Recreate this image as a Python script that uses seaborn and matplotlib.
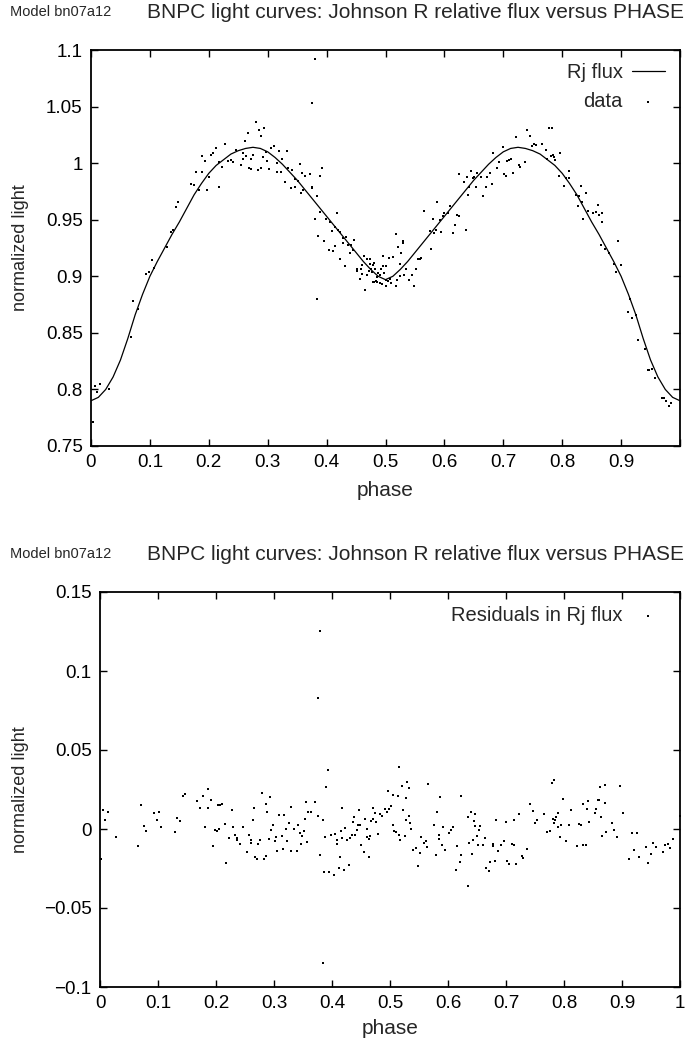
import numpy as np
import pandas as pd
import matplotlib
matplotlib.use("Agg")
import matplotlib.pyplot as plt
import seaborn as sns

# ---------------- data ----------------
model_phase = [0.0000, 0.0125, 0.0250, 0.0375, 0.0500, 0.0625, 0.0750, 0.0875, 0.1000, 0.1125,
               0.1250, 0.1375, 0.1500, 0.1625, 0.1750, 0.1875, 0.2000, 0.2125, 0.2250, 0.2375,
               0.2500, 0.2625, 0.2750, 0.2875, 0.3000, 0.3125, 0.3250, 0.3375, 0.3500, 0.3625,
               0.3750, 0.3875, 0.4000, 0.4125, 0.4250, 0.4375, 0.4500, 0.4625, 0.4750, 0.4875,
               0.5000, 0.5125, 0.5250, 0.5375, 0.5500, 0.5625, 0.5750, 0.5875, 0.6000, 0.6125,
               0.6250, 0.6375, 0.6500, 0.6625, 0.6750, 0.6875, 0.7000, 0.7125, 0.7250, 0.7375,
               0.7500, 0.7625, 0.7750, 0.7875, 0.8000, 0.8125, 0.8250, 0.8375, 0.8500, 0.8625,
               0.8750, 0.8875, 0.9000, 0.9125, 0.9250, 0.9375, 0.9500, 0.9625, 0.9750, 0.9875,
               1.0000]
model_flux = [0.790, 0.793, 0.800, 0.811, 0.826, 0.845, 0.866, 0.884, 0.900, 0.913,
              0.925, 0.937, 0.948, 0.960, 0.972, 0.982, 0.991, 0.998, 1.003, 1.008,
              1.011, 1.013, 1.014, 1.013, 1.010, 1.005, 0.999, 0.992, 0.985, 0.977,
              0.969, 0.961, 0.953, 0.945, 0.937, 0.929, 0.921, 0.913, 0.906, 0.900,
              0.897, 0.900, 0.906, 0.913, 0.921, 0.929, 0.937, 0.945, 0.953, 0.961,
              0.969, 0.977, 0.985, 0.992, 0.999, 1.005, 1.010, 1.013, 1.014, 1.013,
              1.011, 1.008, 1.003, 0.998, 0.991, 0.982, 0.972, 0.960, 0.948, 0.937,
              0.925, 0.913, 0.900, 0.884, 0.866, 0.845, 0.826, 0.811, 0.800, 0.793,
              0.790]

data_phase = [
    0.003, 0.007, 0.011, 0.015, 0.030, 0.068, 0.072, 0.079, 0.094, 0.098,
    0.103, 0.107, 0.129, 0.135, 0.140, 0.144, 0.148, 0.169, 0.175, 0.179,
    0.183, 0.188, 0.189, 0.193, 0.197, 0.201, 0.203, 0.207, 0.212, 0.218,
    0.218, 0.223, 0.228, 0.233, 0.237, 0.241, 0.247, 0.254, 0.258, 0.258,
    0.262, 0.264, 0.267, 0.268, 0.271, 0.272, 0.275, 0.280, 0.284, 0.286,
    0.288, 0.288, 0.292, 0.293, 0.297, 0.299, 0.302, 0.306, 0.311, 0.315,
    0.316, 0.319, 0.323, 0.325, 0.329, 0.332, 0.335, 0.340, 0.342, 0.346,
    0.347, 0.351, 0.354, 0.357, 0.359, 0.360, 0.364, 0.371, 0.375, 0.375,
    0.376, 0.380, 0.380, 0.384, 0.384, 0.386, 0.388, 0.388, 0.393, 0.395,
    0.399, 0.404, 0.406, 0.410, 0.411, 0.414, 0.415, 0.418, 0.419, 0.422,
    0.423, 0.427, 0.428, 0.431, 0.433, 0.436, 0.439, 0.442, 0.445, 0.446,
    0.451, 0.452, 0.456, 0.459, 0.460, 0.460, 0.464, 0.466, 0.468, 0.469,
    0.472, 0.473, 0.476, 0.477, 0.479, 0.481, 0.481, 0.483, 0.484, 0.486,
    0.487, 0.474, 0.478, 0.485, 0.490, 0.490, 0.492, 0.494, 0.495, 0.496,
    0.498, 0.500, 0.500, 0.501, 0.504, 0.506, 0.507, 0.510, 0.512, 0.517,
    0.517, 0.518, 0.520, 0.521, 0.524, 0.525, 0.527, 0.529, 0.530, 0.532,
    0.535, 0.540, 0.545, 0.548, 0.552, 0.555, 0.558, 0.560, 0.566, 0.575,
    0.578, 0.581, 0.583, 0.586, 0.588, 0.592, 0.595, 0.597, 0.600, 0.606,
    0.610, 0.614, 0.618, 0.621, 0.624, 0.624, 0.634, 0.636, 0.638, 0.640,
    0.642, 0.645, 0.648, 0.651, 0.654, 0.656, 0.662, 0.666, 0.671, 0.673,
    0.677, 0.681, 0.683, 0.690, 0.693, 0.699, 0.702, 0.704, 0.707, 0.710,
    0.713, 0.716, 0.721, 0.726, 0.728, 0.736, 0.741, 0.745, 0.748, 0.752,
    0.755, 0.765, 0.772, 0.775, 0.778, 0.781, 0.782, 0.784, 0.786, 0.788,
    0.794, 0.797, 0.803, 0.806, 0.811, 0.812, 0.823, 0.826, 0.829, 0.832,
    0.834, 0.836, 0.840, 0.843, 0.853, 0.857, 0.860, 0.863, 0.866, 0.867,
    0.868, 0.873, 0.879, 0.888, 0.891, 0.895, 0.899, 0.911, 0.915, 0.919,
    0.925, 0.928, 0.940, 0.945, 0.948, 0.953, 0.957, 0.969, 0.973, 0.977,
    0.981, 0.985]
data_flux = [
    0.771, 0.803, 0.798, 0.805, 0.800, 0.846, 0.878, 0.871, 0.902, 0.904,
    0.914, 0.907, 0.926, 0.939, 0.941, 0.961, 0.966, 0.982, 0.981, 0.992,
    0.976, 0.992, 1.006, 1.002, 0.976, 0.988, 1.007, 1.009, 1.013, 0.979,
    1.001, 0.997, 1.017, 1.002, 1.003, 1.001, 1.012, 0.998, 1.009, 1.004,
    1.020, 1.006, 1.027, 0.996, 1.004, 0.995, 1.007, 1.036, 0.994, 1.029,
    1.024, 0.996, 1.005, 1.031, 1.010, 1.002, 0.995, 1.013, 1.015, 1.000,
    0.992, 1.011, 0.992, 1.004, 0.983, 1.011, 0.996, 0.978, 0.994, 0.979,
    0.986, 0.984, 0.999, 0.974, 0.991, 0.976, 0.989, 0.990, 1.053, 0.979,
    0.978, 1.092, 0.951, 0.971, 0.880, 0.936, 0.957, 0.989, 0.996, 0.931,
    0.951, 0.923, 0.948, 0.940, 0.922, 0.944, 0.927, 0.956, 0.941, 0.915,
    0.939, 0.934, 0.929, 0.909, 0.935, 0.928, 0.921, 0.928, 0.923, 0.932,
    0.905, 0.906, 0.898, 0.906, 0.910, 0.902, 0.918, 0.888, 0.901, 0.915,
    0.905, 0.911, 0.906, 0.904, 0.895, 0.912, 0.895, 0.906, 0.896, 0.895,
    0.903, 0.915, 0.910, 0.899, 0.901, 0.894, 0.906, 0.893, 0.909, 0.918,
    0.903, 0.897, 0.891, 0.909, 0.896, 0.916, 0.898, 0.894, 0.917, 0.891,
    0.937, 0.891, 0.897, 0.926, 0.911, 0.900, 0.921, 0.931, 0.929, 0.901,
    0.906, 0.897, 0.901, 0.891, 0.906, 0.915, 0.915, 0.916, 0.958, 0.940,
    0.924, 0.951, 0.938, 0.941, 0.966, 0.950, 0.939, 0.953, 0.956, 0.956,
    0.962, 0.938, 0.945, 0.954, 0.990, 0.953, 0.983, 0.941, 0.988, 0.972,
    0.979, 0.993, 0.987, 0.988, 0.979, 0.991, 0.988, 0.971, 0.979, 0.988,
    0.991, 0.982, 1.009, 0.996, 1.001, 1.014, 0.990, 0.989, 1.002, 1.003,
    1.004, 0.991, 1.023, 0.998, 0.997, 1.001, 1.029, 1.024, 1.015, 1.017,
    1.016, 1.017, 1.012, 1.004, 1.031, 1.006, 1.031, 1.007, 1.005, 1.003,
    0.989, 1.009, 0.980, 0.987, 0.993, 0.987, 0.972, 0.962, 0.971, 0.980,
    0.966, 0.951, 0.974, 0.958, 0.956, 0.957, 0.963, 0.954, 0.928, 0.948,
    0.956, 0.924, 0.921, 0.911, 0.904, 0.931, 0.910, 0.868, 0.880, 0.863,
    0.866, 0.844, 0.836, 0.817, 0.817, 0.818, 0.810, 0.792, 0.792, 0.790,
    0.785, 0.788]

res_phase = [
    0.001, 0.005, 0.009, 0.013, 0.028, 0.066, 0.071, 0.075, 0.079, 0.093,
    0.098, 0.102, 0.106, 0.129, 0.133, 0.138, 0.143, 0.147, 0.168, 0.172,
    0.177, 0.181, 0.186, 0.187, 0.191, 0.195, 0.198, 0.201, 0.203, 0.206,
    0.207, 0.211, 0.216, 0.217, 0.222, 0.227, 0.229, 0.233, 0.236, 0.237,
    0.241, 0.246, 0.253, 0.257, 0.260, 0.261, 0.263, 0.266, 0.267, 0.271,
    0.273, 0.276, 0.279, 0.283, 0.286, 0.287, 0.288, 0.291, 0.293, 0.295,
    0.298, 0.301, 0.303, 0.305, 0.309, 0.313, 0.316, 0.318, 0.320, 0.323,
    0.325, 0.329, 0.330, 0.334, 0.340, 0.342, 0.345, 0.347, 0.349, 0.351,
    0.353, 0.355, 0.357, 0.359, 0.363, 0.371, 0.375, 0.375, 0.379, 0.379,
    0.384, 0.384, 0.386, 0.388, 0.389, 0.393, 0.395, 0.399, 0.403, 0.405,
    0.408, 0.409, 0.412, 0.413, 0.415, 0.417, 0.418, 0.421, 0.422, 0.425,
    0.430, 0.431, 0.434, 0.436, 0.438, 0.440, 0.443, 0.444, 0.446, 0.448,
    0.450, 0.455, 0.457, 0.460, 0.461, 0.463, 0.464, 0.466, 0.467, 0.470,
    0.471, 0.474, 0.476, 0.480, 0.482, 0.487, 0.491, 0.494, 0.497, 0.499,
    0.501, 0.505, 0.506, 0.507, 0.510, 0.514, 0.516, 0.516, 0.518, 0.520,
    0.523, 0.525, 0.527, 0.528, 0.529, 0.532, 0.532, 0.535, 0.536, 0.540,
    0.545, 0.548, 0.551, 0.554, 0.558, 0.562, 0.563, 0.566, 0.575, 0.580,
    0.581, 0.584, 0.585, 0.587, 0.589, 0.592, 0.595, 0.601, 0.605, 0.609,
    0.614, 0.616, 0.620, 0.622, 0.623, 0.634, 0.635, 0.637, 0.640, 0.641,
    0.643, 0.644, 0.646, 0.647, 0.650, 0.652, 0.654, 0.656, 0.660, 0.664,
    0.666, 0.670, 0.672, 0.677, 0.678, 0.681, 0.683, 0.687, 0.691, 0.697,
    0.700, 0.701, 0.706, 0.710, 0.713, 0.714, 0.717, 0.722, 0.727, 0.729,
    0.737, 0.741, 0.746, 0.750, 0.754, 0.766, 0.770, 0.776, 0.779, 0.782,
    0.781, 0.782, 0.785, 0.787, 0.789, 0.790, 0.793, 0.794, 0.799, 0.803,
    0.808, 0.812, 0.823, 0.826, 0.829, 0.833, 0.833, 0.838, 0.839, 0.842,
    0.843, 0.853, 0.855, 0.858, 0.861, 0.862, 0.864, 0.866, 0.870, 0.870,
    0.873, 0.883, 0.887, 0.892, 0.897, 0.901, 0.912, 0.917, 0.921, 0.925,
    0.929, 0.941, 0.945, 0.950, 0.954, 0.958, 0.970, 0.974, 0.979, 0.983,
    0.988, 1.000]
res_value = [
    -0.0190, 0.0120, 0.0060, 0.0110, -0.0050, -0.0110, 0.0150, 0.0020, -0.0010, 0.0100,
    0.0060, 0.0110, 0.0010, -0.0020, 0.0070, 0.0050, 0.0210, 0.0220, 0.0175, 0.0130,
    0.0210, 0.0010, 0.0130, 0.0255, 0.0185, -0.0110, -0.0005, -0.0015, 0.0155, 0.0000,
    0.0155, 0.0160, 0.0030, -0.0215, -0.0057, 0.0120, 0.0010, -0.0036, -0.0057, -0.0068,
    -0.0095, 0.0010, -0.0148, -0.0036, -0.0089, -0.0072, 0.0060, 0.0130, -0.0180, -0.0190,
    -0.0095, -0.0068, 0.0230, -0.0190, 0.0160, -0.0170, 0.0110, -0.0063, 0.0200, -0.0004,
    0.0027, -0.0078, -0.0053, -0.0140, 0.0090, -0.0042, -0.0127, 0.0087, 0.0000, -0.0078,
    0.0038, -0.0140, 0.0140, 0.0000, -0.0140, 0.0027, -0.0025, -0.0093, -0.0042, -0.0011,
    0.0063, 0.0170, -0.0084, 0.0110, 0.0110, 0.0170, 0.0084, 0.0830, 0.1255, -0.0167,
    0.0059, -0.0848, -0.0274, -0.0053, 0.0266, 0.0375, -0.0274, -0.0036, -0.0290, -0.0032,
    -0.0095, -0.0072, -0.0247, -0.0180, -0.0015, 0.0133, -0.0057, -0.0257, 0.0006, -0.0072,
    -0.0230, -0.0057, -0.0036, 0.0042, 0.0076, -0.0036, -0.0008, 0.0027, 0.0122, 0.0027,
    -0.0103, -0.0148, 0.0063, -0.0051, 0.0000, -0.0063, -0.0177, -0.0042, 0.0049, 0.0133,
    0.0063, 0.0101, 0.0042, -0.0030, 0.0095, 0.0080, 0.0127, 0.0105, 0.0238, 0.0127,
    0.0143, 0.0217, 0.0023, -0.0015, -0.0019, 0.0207, 0.0390, -0.0036, -0.0068, 0.0274,
    0.0118, -0.0046, 0.0196, 0.0055, 0.0300, 0.0260, 0.0080, 0.0038, 0.0000, -0.0135,
    -0.0120, -0.0236, -0.0152, -0.0051, -0.0089, -0.0078, -0.0116, 0.0287, 0.0027, -0.0162,
    0.0105, -0.0063, -0.0036, 0.0203, -0.0099, 0.0011, -0.0131, -0.0025, -0.0008, 0.0013,
    -0.0257, -0.0110, -0.0211, -0.0162, 0.0207, 0.0076, -0.0359, -0.0089, 0.0105, -0.0156,
    -0.0072, 0.0049, 0.0095, 0.0021, -0.0046, -0.0099, -0.0004, 0.0017, -0.0099, -0.0057,
    -0.0247, -0.0268, -0.0211, -0.0093, -0.0105, -0.0205, 0.0059, -0.0141, -0.0099, -0.0074,
    0.0044, -0.0205, -0.0219, -0.0093, -0.0099, 0.0055, -0.0222, 0.0095, -0.0169, -0.0184,
    -0.0127, 0.0158, 0.0112, 0.0038, 0.0059, 0.0095, -0.0019, -0.0011, 0.0290, 0.0310,
    0.0065, 0.0038, 0.0059, 0.0076, 0.0101, 0.0013, -0.0051, 0.0027, 0.0192, -0.0074,
    0.0027, 0.0118, -0.0105, 0.0032, 0.0027, 0.0158, -0.0099, -0.0099, 0.0129, 0.0175,
    0.0042, 0.0101, 0.0127, 0.0181, 0.0181, 0.0266, 0.0076, -0.0046, 0.0165, 0.0276,
    -0.0021, 0.0038, -0.0008, -0.0053, 0.0270, 0.0101, -0.0190, -0.0025, -0.0131, -0.0025,
    -0.0179, -0.0116, -0.0215, -0.0156, -0.0089, -0.0116, -0.0148, -0.0103, -0.0093, -0.0120,
    -0.0061, 0.0084]

x_ticks = [0.0, 0.1, 0.2, 0.3, 0.4, 0.5, 0.6, 0.7, 0.8, 0.9, 1.0]
x_ticklabels_top = ["0", "0.1", "0.2", "0.3", "0.4", "0.5", "0.6", "0.7", "0.8", "0.9", ""]
x_ticklabels_bottom = ["0", "0.1", "0.2", "0.3", "0.4", "0.5", "0.6", "0.7", "0.8", "0.9", "1"]
y_ticks_top = [0.75, 0.80, 0.85, 0.90, 0.95, 1.00, 1.05, 1.10]
y_ticklabels_top = ["0.75", "0.8", "0.85", "0.9", "0.95", "1", "1.05", "1.1"]
y_ticks_bottom = [-0.10, -0.05, 0.0, 0.05, 0.10, 0.15]
y_ticklabels_bottom = ["\u22120.1", "\u22120.05", "0", "0.05", "0.1", "0.15"]

model_label = "Model bn07a12"
title_text = "BNPC light curves: Johnson R relative flux versus PHASE"

# ---------------- figure ----------------
sns.set_theme(style="ticks")
plt.rcParams['font.family'] = ['Liberation Sans', 'DejaVu Sans']
plt.rcParams['axes.unicode_minus'] = True

W, H = 686, 1042
fig = plt.figure(figsize=(W / 100, H / 100), dpi=100, facecolor="white")


def rect(l, t, r, b):
    return [l / W, 1 - b / H, (r - l) / W, (b - t) / H]


ax1 = fig.add_axes(rect(91, 50, 680, 446))
ax2 = fig.add_axes(rect(100, 592, 680, 987))

top_model = pd.DataFrame({"phase": model_phase, "flux": model_flux})
top_data = pd.DataFrame({"phase": data_phase, "flux": data_flux})
resid = pd.DataFrame({"phase": res_phase, "resid": res_value})

sns.lineplot(data=top_model, x="phase", y="flux", ax=ax1, color="black",
             linewidth=0.9, label="Rj flux")
sns.scatterplot(data=top_data, x="phase", y="flux", ax=ax1, color="black",
                marker="s", s=3, linewidth=0, label="data")
sns.scatterplot(data=resid, x="phase", y="resid", ax=ax2, color="black",
                marker="s", s=3, linewidth=0, label="Residuals in Rj flux")

TICK_FS = 13.6
for ax, yt, ytl, xtl, ylim in [
    (ax1, y_ticks_top, y_ticklabels_top, x_ticklabels_top, (0.75, 1.1)),
    (ax2, y_ticks_bottom, y_ticklabels_bottom, x_ticklabels_bottom, (-0.1, 0.15)),
]:
    ax.set_xlim(0, 1)
    ax.set_ylim(*ylim)
    ax.set_xticks(x_ticks)
    ax.set_xticklabels(xtl)
    ax.set_yticks(yt)
    ax.set_yticklabels(ytl)
    ax.tick_params(direction="in", length=5, width=1.0, top=True, right=True,
                   labelsize=TICK_FS, colors="black", pad=6)
    for sp in ax.spines.values():
        sp.set_visible(True)
        sp.set_linewidth(1.3)
        sp.set_color("black")
    ax.set_xlabel("")
    ax.set_ylabel("")
    ax.grid(False)
    ax.set_facecolor("white")

leg_kw = dict(loc="upper right", frameon=False, markerfirst=False, fontsize=14.5,
              handlelength=1.65, handletextpad=0.45, labelspacing=0.5,
              borderpad=0, borderaxespad=0, markerscale=1.0)
ax1.legend(bbox_to_anchor=((665 - 91) / 589, 1 - (63 - 50) / 396), **leg_kw)
ax2.legend(bbox_to_anchor=((665 - 100) / 580, 1 - (606 - 592) / 395), **leg_kw)

# titles and axis labels
for yc in (12.5, 554.5):
    fig.text(10 / W, 1 - yc / H, model_label, fontsize=10.5, va="center", ha="left")
    fig.text(147 / W, 1 - yc / H, title_text, fontsize=15, va="center", ha="left")
fig.text(385 / W, 1 - 490 / H, "phase", fontsize=15, va="center", ha="center")
fig.text(390 / W, 1 - 1029 / H, "phase", fontsize=15, va="center", ha="center")
fig.text(21 / W, 1 - 248 / H, "normalized light", fontsize=13, va="center",
         ha="center", rotation=90)
fig.text(21 / W, 1 - 790 / H, "normalized light", fontsize=13, va="center",
         ha="center", rotation=90)

fig.savefig("out.png", dpi=100, facecolor="white")
